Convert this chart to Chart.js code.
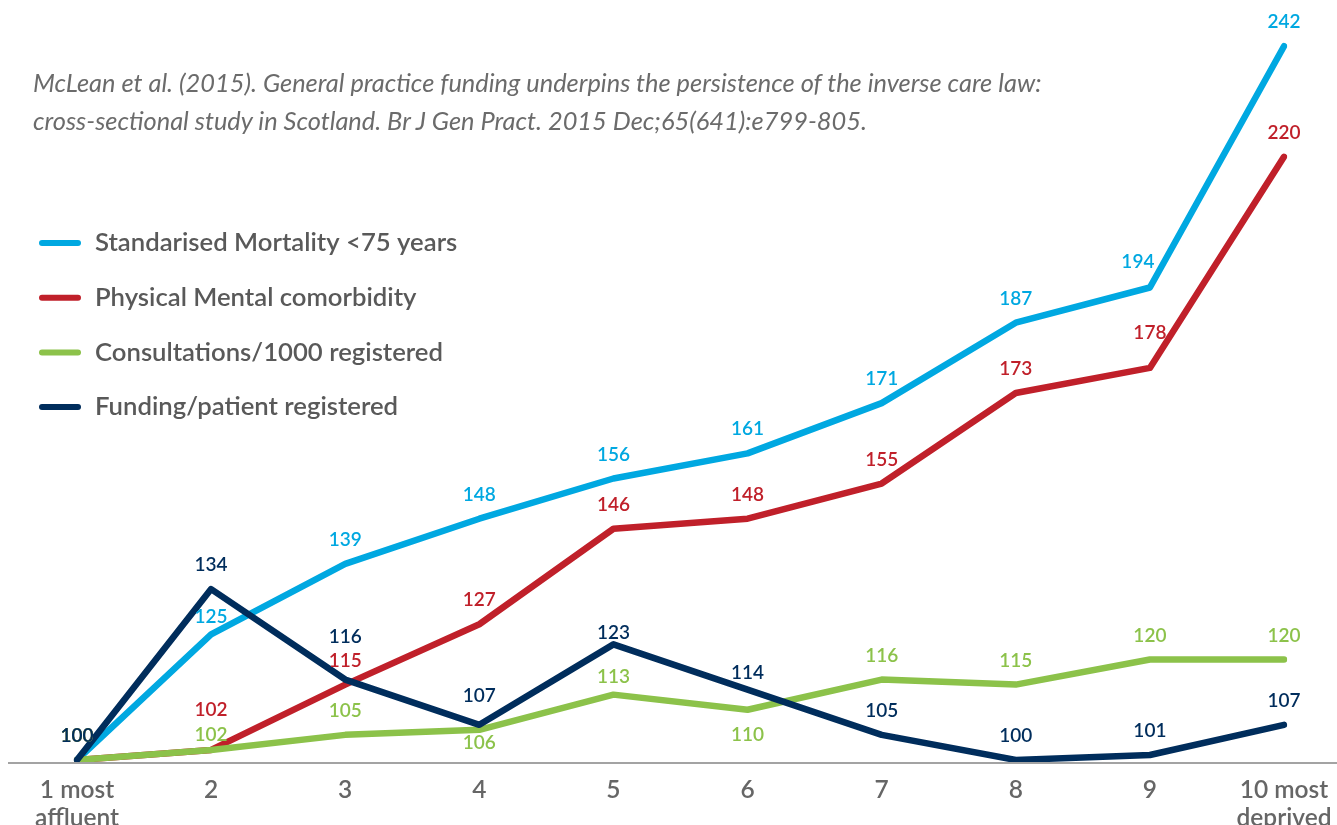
<!DOCTYPE html>
<html><head><meta charset="utf-8">
<script src="https://cdn.jsdelivr.net/npm/chart.js@4.4.0/dist/chart.umd.min.js"></script>
<style>
html,body{margin:0;padding:0;background:#fff;overflow:hidden;width:1337px;height:825px;}
#wrap{position:relative;width:1337px;height:825px;}
#title{position:absolute;left:33px;top:63px;font-family:Lato,sans-serif;font-style:italic;font-size:25.4px;line-height:38px;color:#6b6b6b;white-space:nowrap;}
canvas{position:absolute;left:0;top:0;}
</style></head><body>
<div id="wrap"><canvas id="c" width="1337" height="825"></canvas>
<div id="title">McLean et al. (2015). General practice funding underpins the persistence of the inverse care law:<br>cross-sectional study in Scotland. Br J Gen Pract. 2015 Dec;65(641):e799-805.</div></div>
<script>
const categories = [["1 most","affluent"],"2","3","4","5","6","7","8","9",["10 most","deprived"]];
const seriesNames = ["Standarised Mortality <75 years","Physical Mental comorbidity","Consultations/1000 registered","Funding/patient registered"];
const mortality   = [100,125,139,148,156,161,171,187,194,242];
const comorbidity = [100,102,115,127,146,148,155,173,178,220];
const consultations = [100,102,105,106,113,110,116,115,120,120];
const funding     = [100,134,116,107,123,114,105,100,101,107];

const colors = ["#00a8e1","#c0202a","#8cc24a","#002d5c"];
// label offsets [dx, dy] in px (negative dy = above point); default [0, -24]
const labelOffsets = [
  {1:[0,-17], 8:[-12,-26]},
  {1:[0,-40], 8:[0,-35]},
  {1:[0,-15], 3:[0,13], 4:[0,-18], 5:[0,25]},
  {2:[0,-43], 3:[0,-29], 4:[0,-12], 5:[0,-17]}
];

const seriesData = [mortality, comorbidity, consultations, funding];
const drawOrder = [3,2,1,0];

const datasets = seriesData.map((d,i)=>({
  label: seriesNames[i],
  data: d,
  borderColor: colors[i],
  backgroundColor: colors[i],
  borderWidth: 6.5,
  borderCapStyle: 'round',
  borderJoinStyle: 'round',
  pointRadius: 0,
  tension: 0,
  fill: false,
  order: drawOrder[i]
}));

const axisLinePlugin = {
  id: 'axisLine',
  beforeDatasetsDraw(chart){
    const ctx = chart.ctx, y = chart.chartArea.bottom + 1;
    ctx.save();
    ctx.strokeStyle = '#a3a3a3';
    ctx.lineWidth = 2;
    ctx.beginPath(); ctx.moveTo(8, y); ctx.lineTo(chart.width, y); ctx.stroke();
    ctx.restore();
  }
};

const legendPlugin = {
  id: 'sideLegend',
  afterDraw(chart){
    const ctx = chart.ctx;
    ctx.save();
    chart.data.datasets.forEach((ds,i)=>{
      const y = 243 + i*54.7;
      ctx.strokeStyle = ds.borderColor;
      ctx.lineWidth = 6; ctx.lineCap = 'round';
      ctx.beginPath(); ctx.moveTo(42, y); ctx.lineTo(78, y); ctx.stroke();
      ctx.fillStyle = '#595959';
      ctx.font = '600 25.7px Lato';
      ctx.textBaseline = 'middle'; ctx.textAlign = 'left';
      ctx.fillText(ds.label, 95, y);
    });
    ctx.restore();
  }
};

const labelPlugin = {
  id: 'valueLabels',
  afterDatasetsDraw(chart){
    const ctx = chart.ctx;
    ctx.save();
    ctx.font = '600 19px Lato';
    ctx.textAlign = 'center'; ctx.textBaseline = 'middle';
    chart.data.datasets.forEach((ds,i)=>{
      const meta = chart.getDatasetMeta(i);
      ctx.fillStyle = ds.borderColor;
      meta.data.forEach((pt,j)=>{
        const off = labelOffsets[i][j] || [0,-24];
        ctx.fillText(String(ds.data[j]), pt.x + off[0], pt.y + off[1]);
      });
    });
    ctx.restore();
  }
};

new Chart(document.getElementById('c'), {
  type: 'line',
  data: { labels: categories, datasets },
  options: {
    responsive: false,
    animation: false,
    layout: { padding: { left: 77, right: 53, top: 6, bottom: 0 } },
    plugins: { legend: { display: false }, tooltip: { enabled: false }, title: { display: false } },
    scales: {
      x: {
        offset: false,
        grid: { display: false, drawTicks: false },
        border: { display: false },
        ticks: { color: '#666666', font: { family: 'Lato', size: 24.5, weight: '600', lineHeight: 1.15 }, padding: 14, maxRotation: 0, autoSkip: false },
        afterFit(scale){ scale.height = 63; scale.paddingLeft = 0; scale.paddingRight = 0; }
      },
      y: { display: false, min: 99.6, max: 250 }
    }
  },
  plugins: [axisLinePlugin, legendPlugin, labelPlugin]
});
</script>
</body></html>
